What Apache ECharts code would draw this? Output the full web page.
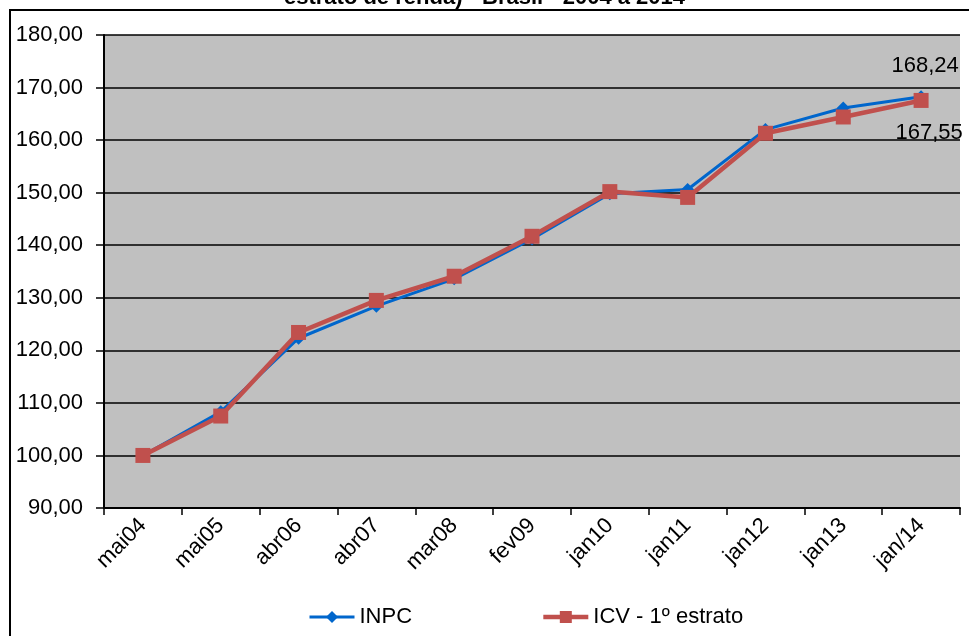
<!DOCTYPE html>
<html>
<head>
<meta charset="utf-8">
<script src="https://cdn.jsdelivr.net/npm/echarts@6/dist/echarts.min.js"></script>
<style>
  html, body { margin: 0; padding: 0; background: #fff; }
  #chart { width: 969px; height: 636px; }
</style>
</head>
<body>
<div id="chart"></div>
<script>
var categorias = ['mai04', 'mai05', 'abr06', 'abr07', 'mar08', 'fev09', 'jan10', 'jan11', 'jan12', 'jan13', 'jan/14'];
var inpc = [100.00, 108.3, 122.3, 128.4, 133.6, 141.2, 149.8, 150.6, 162.0, 166.1, 168.24];
var icv = [100.00, 107.5, 123.4, 129.5, 134.1, 141.7, 150.2, 149.1, 161.3, 164.4, 167.55];
var eixoY = { min: 90, max: 180, interval: 10 };

var fonte = 'Liberation Sans, Arial, sans-serif';
function virgula(v) { return v.toFixed(2).replace('.', ','); }

var chart = echarts.init(document.getElementById('chart'));
chart.setOption({
  backgroundColor: '#fff',
  textStyle: { fontFamily: fonte, color: '#000' },
  graphic: [{
    type: 'rect',
    shape: { x: 10, y: 10, width: 980, height: 660 },
    style: { fill: 'none', stroke: '#000', lineWidth: 2 },
    silent: true
  }],
  title: {
    text: 'estrato de renda) - Brasil - 2004 a 2014',
    left: 'center',
    top: -18,
    textStyle: { fontFamily: fonte, fontSize: 22, fontWeight: 'bold', color: '#000' }
  },
  legend: {
    left: 303,
    top: 601,
    itemWidth: 45,
    itemHeight: 15,
    itemGap: 129,
    textStyle: { fontFamily: fonte, fontSize: 22, color: '#000' },
    data: [
      { name: 'INPC', lineStyle: { width: 3 } },
      { name: 'ICV - 1º estrato', lineStyle: { width: 4.5 } }
    ]
  },
  grid: { left: 104, right: 9, top: 35, bottom: 128 },
  xAxis: {
    type: 'category',
    data: categorias,
    boundaryGap: true,
    axisLine: { lineStyle: { color: '#000', width: 2 } },
    axisTick: { show: true, length: 7, lineStyle: { color: '#000', width: 1.5 } },
    axisLabel: { rotate: 45, fontSize: 22, color: '#000', fontFamily: fonte, margin: 14 }
  },
  yAxis: {
    type: 'value',
    min: eixoY.min,
    max: eixoY.max,
    interval: eixoY.interval,
    axisLine: { show: true, lineStyle: { color: '#000', width: 2 } },
    axisTick: { show: true, length: 8, lineStyle: { color: '#000', width: 1.5 } },
    axisLabel: { fontSize: 22, color: '#000', fontFamily: fonte, margin: 21, formatter: virgula },
    splitLine: { lineStyle: { color: '#000', width: 1.5 } },
    splitArea: { show: true, areaStyle: { color: ['#c0c0c0', '#c0c0c0'] } }
  },
  series: [
    {
      name: 'INPC',
      type: 'line',
      data: inpc.map(function (v, i) {
        if (i === inpc.length - 1) {
          return { value: v, label: { show: true, position: 'top', distance: 13, offset: [4, 0], formatter: virgula(v) } };
        }
        return v;
      }),
      symbol: 'diamond',
      symbolSize: 13,
      color: '#0066cc',
      lineStyle: { color: '#0066cc', width: 3 },
      itemStyle: { color: '#0066cc' },
      label: { fontSize: 22, color: '#000', fontFamily: fonte },
      z: 2
    },
    {
      name: 'ICV - 1º estrato',
      type: 'line',
      data: icv.map(function (v, i) {
        if (i === icv.length - 1) {
          return { value: v, label: { show: true, position: 'bottom', distance: 14, offset: [8, 0], formatter: virgula(v) } };
        }
        return v;
      }),
      symbol: 'rect',
      symbolSize: 15,
      color: '#c0504d',
      lineStyle: { color: '#c0504d', width: 4.5 },
      itemStyle: { color: '#c0504d' },
      label: { fontSize: 22, color: '#000', fontFamily: fonte },
      z: 3
    }
  ]
});
</script>
</body>
</html>
